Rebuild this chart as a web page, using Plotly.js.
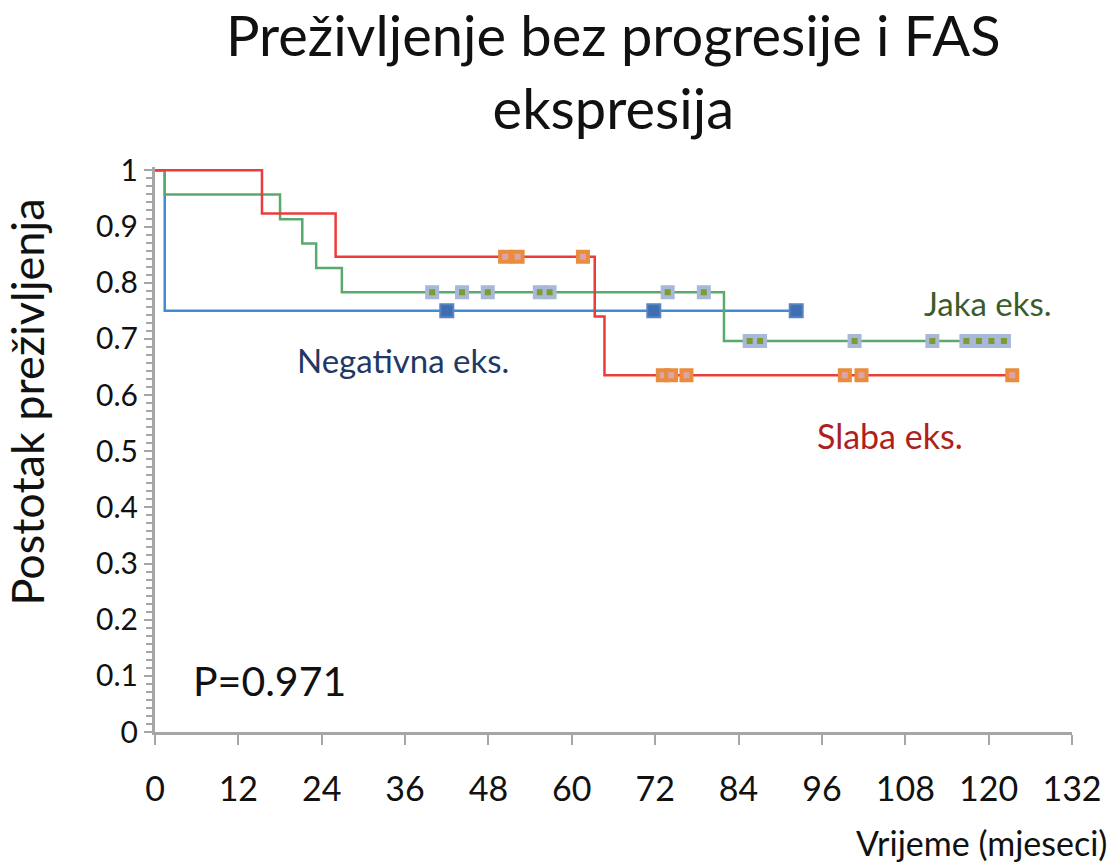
<!DOCTYPE html>
<html>
<head>
<meta charset="utf-8">
<script src="https://cdn.plot.ly/plotly-3.0.1.min.js"></script>
<style>
  html, body { margin: 0; padding: 0; background: #ffffff; }
  #chart { width: 1109px; height: 867px; }
</style>
</head>
<body>
<div id="chart"></div>
<script>
// ---- Data (months, survival proportion) ----
const negTimes   = [0, 1.4, 92.3];
const negSurv    = [1, 0.75, 0.75];
const negCensor  = [42.0, 71.8, 92.3];

const jakaTimes  = [0, 1.4, 18.0, 21.2, 23.2, 26.9, 81.9, 122.2];
const jakaSurv   = [1, 0.957, 0.913, 0.870, 0.826, 0.783, 0.696, 0.696];
const jakaCensor = [39.9, 44.2, 47.9, 55.4, 56.8, 73.8, 79.0, 85.6, 87.1, 100.7, 111.9, 116.8, 118.6, 120.4, 122.2];

const slabaTimes  = [0, 15.4, 26.0, 63.3, 64.7, 123.4];
const slabaSurv   = [1, 0.923, 0.846, 0.740, 0.635, 0.635];
const slabaCensor = [50.4, 52.2, 61.6, 73.1, 74.3, 76.5, 99.3, 101.7, 123.4];

const xTicks = [0, 12, 24, 36, 48, 60, 72, 84, 96, 108, 120, 132];

const titleText = "Preživljenje bez progresije i FAS<br>ekspresija";
const yTitle = "Postotak preživljenja";
const xTitle = "Vrijeme (mjeseci)";
const pText = "P=0.971";
const labelNeg = "Negativna eks.";
const labelJaka = "Jaka eks.";
const labelSlaba = "Slaba eks.";

// survival value of a step curve at time t
function survAt(times, surv, t) {
  let v = surv[0];
  for (let i = 0; i < times.length; i++) { if (times[i] <= t) v = surv[i]; }
  return v;
}

const FONT = "Lato, 'Open Sans', sans-serif";
const AXIS_GRAY = "#a6a6a6";

const cBlue = "#3f8bd6", cGreen = "#5aa96d", cRed = "#ec3b3b";

const traces = [
  { x: negTimes, y: negSurv, mode: "lines", line: { shape: "hv", color: cBlue, width: 2.5 }, hoverinfo: "skip" },
  { x: jakaTimes, y: jakaSurv, mode: "lines", line: { shape: "hv", color: cGreen, width: 2.5 }, hoverinfo: "skip" },
  { x: slabaTimes, y: slabaSurv, mode: "lines", line: { shape: "hv", color: cRed, width: 2.5 }, hoverinfo: "skip" },
  { x: negCensor, y: negCensor.map(t => survAt(negTimes, negSurv, t)), mode: "markers", cliponaxis: false,
    marker: { symbol: "square", size: 13, color: "#3e6fb2", line: { color: "#5a84bf", width: 2 } }, hoverinfo: "skip" },
  { x: jakaCensor, y: jakaCensor.map(t => survAt(jakaTimes, jakaSurv, t)), mode: "markers", cliponaxis: false,
    marker: { symbol: "square", size: 10, color: "#7e9b2d", line: { color: "#a7b8d9", width: 4 } }, hoverinfo: "skip" },
  { x: slabaCensor, y: slabaCensor.map(t => survAt(slabaTimes, slabaSurv, t)), mode: "markers", cliponaxis: false,
    marker: { symbol: "square", size: 10, color: "#dba4ae", line: { color: "#e98c3c", width: 4 } }, hoverinfo: "skip" }
];

const layout = {
  width: 1109, height: 867,
  paper_bgcolor: "#ffffff", plot_bgcolor: "#ffffff",
  showlegend: false,
  margin: { l: 155, r: 37, t: 167, b: 135 },
  font: { family: FONT, color: "#000000" },
  title: { text: titleText, font: { family: FONT, size: 56, color: "#111111" },
           x: 0.553, xanchor: "center", y: 0.935, yanchor: "top", yref: "container" },
  xaxis: {
    range: [0, 132], tickvals: xTicks, ticktext: xTicks.map(String),
    showgrid: false, zeroline: false, showline: true, linecolor: AXIS_GRAY, linewidth: 3,
    ticks: "outside", ticklen: 10, tickwidth: 2, tickcolor: AXIS_GRAY,
    ticklabelstandoff: 15,
    tickfont: { family: FONT, size: 34, color: "#111111" }
  },
  yaxis: {
    range: [0, 1.006], tickvals: [0,0.1,0.2,0.3,0.4,0.5,0.6,0.7,0.8,0.9,1],
    ticktext: ["0","0.1","0.2","0.3","0.4","0.5","0.6","0.7","0.8","0.9","1"],
    showgrid: false, zeroline: false, showline: true, linecolor: AXIS_GRAY, linewidth: 3,
    ticks: "outside", ticklen: 8, tickwidth: 2, tickcolor: AXIS_GRAY,
    minor: { dtick: 0.1/7, tick0: 0, ticks: "outside", ticklen: 6, tickwidth: 2, tickcolor: AXIS_GRAY, showgrid: false },
    tickfont: { family: FONT, size: 30, color: "#111111" }
  },
  annotations: [
    { text: yTitle, xref: "paper", yref: "paper", x: -0.139, y: 0.584, xanchor: "center", yanchor: "middle",
      textangle: -90, showarrow: false, font: { family: FONT, size: 45, color: "#111111" } },
    { text: xTitle, xref: "paper", yref: "paper", x: 1.04, y: -0.195, xanchor: "right", yanchor: "middle",
      showarrow: false, font: { family: FONT, size: 34, color: "#111111" } },
    { text: labelNeg, x: 35.7, y: 0.662, xref: "x", yref: "y", showarrow: false,
      font: { family: FONT, size: 33, color: "#1f3864" } },
    { text: labelJaka, x: 119.9, y: 0.763, xref: "x", yref: "y", showarrow: false,
      font: { family: FONT, size: 33, color: "#3b5d27" } },
    { text: labelSlaba, x: 105.8, y: 0.528, xref: "x", yref: "y", showarrow: false,
      font: { family: FONT, size: 34, color: "#b01e1e" } },
    { text: pText, x: 16.5, y: 0.092, xref: "x", yref: "y", showarrow: false,
      font: { family: FONT, size: 41, color: "#111111" } }
  ]
};

Plotly.newPlot("chart", traces, layout, { displayModeBar: false, staticPlot: true });
</script>
</body>
</html>
